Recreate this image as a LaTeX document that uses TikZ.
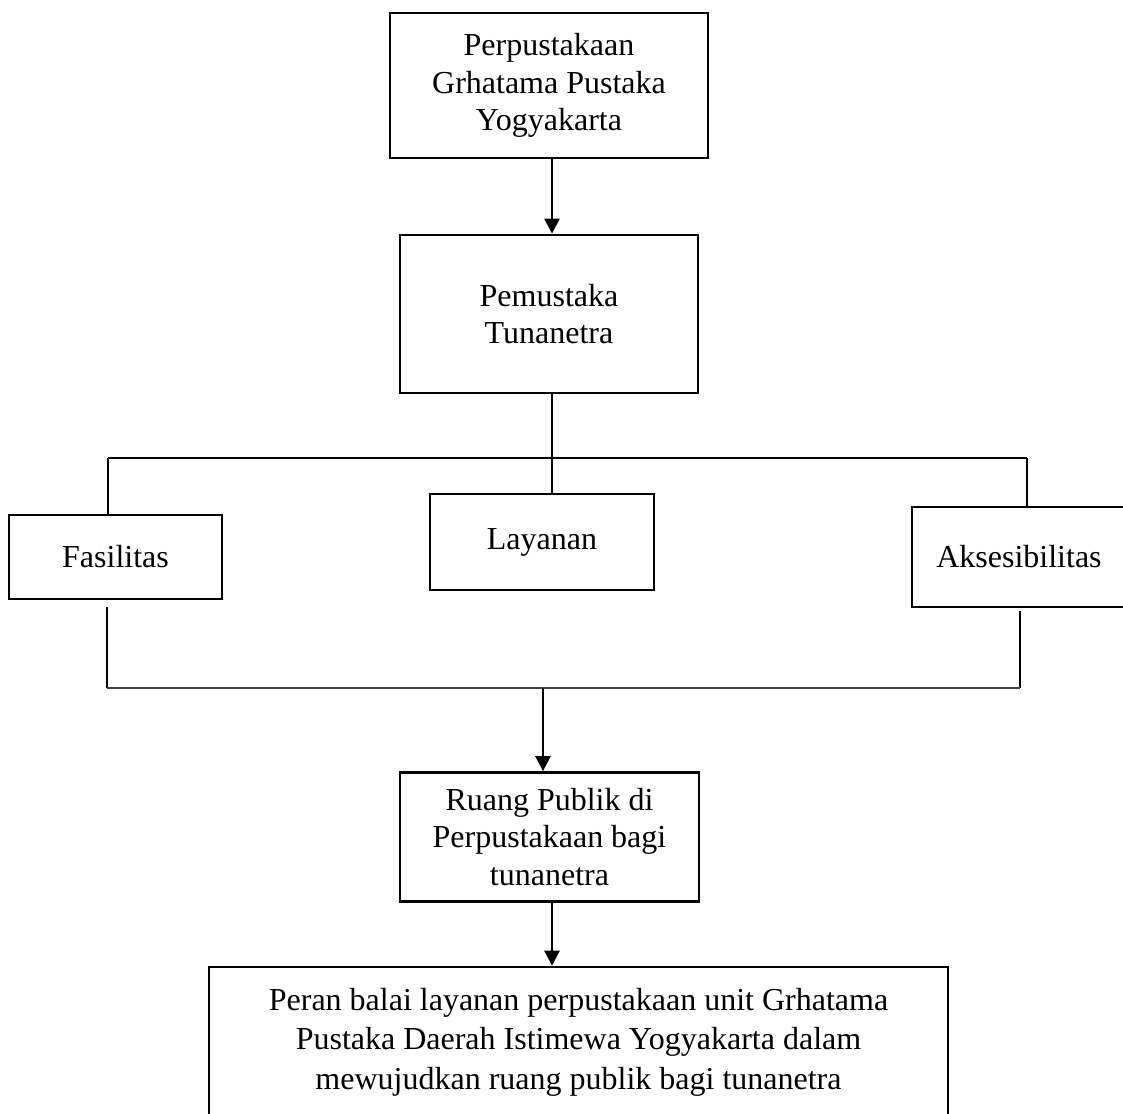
\documentclass[tikz,border=0pt]{standalone}
\usepackage{fontspec}
\setmainfont{Liberation Serif}
\usetikzlibrary{arrows.meta}
\begin{document}
\begin{tikzpicture}[x=1pt,y=-1pt,
  boxstyle/.style={draw=black, line width=2.8pt, rectangle, inner sep=0pt, align=center,
    font=\fontsize{32}{37.5}\selectfont},
  thinline/.style={line width=1.2pt},
  arrowline/.style={line width=2.8pt, -{Triangle[width=15pt,length=15pt]}},
  baseline/.style={line width=2.2pt, draw=black!75}]
\useasboundingbox (0,0) rectangle (1123,1113);
\node[boxstyle, minimum width=318pt, minimum height=145pt] (top) at (549,85.5)
  {Perpustakaan\\Grhatama Pustaka\\Yogyakarta};
\node[boxstyle, minimum width=298pt, minimum height=158pt] (pem) at (549,314)
  {Pemustaka\\Tunanetra};
\node[boxstyle, minimum width=213pt, minimum height=84pt] (fas) at (115.5,557) {Fasilitas};
\node[boxstyle, minimum width=224pt, minimum height=96pt] (lay) at (542,542) {Layanan};
\node[boxstyle, minimum width=214pt, minimum height=100pt] (aks) at (1019,557) {Aksesibilitas};
\node[boxstyle, minimum width=299pt, minimum height=129pt] (ruang) at (549.5,837)
  {Ruang Publik di\\Perpustakaan bagi\\tunanetra};
\node[boxstyle, minimum width=739pt, minimum height=150pt, font=\fontsize{32}{39.5}\selectfont] (peran) at (578.5,1042)
  {Peran balai layanan perpustakaan unit Grhatama\\Pustaka Daerah Istimewa Yogyakarta dalam\\mewujudkan ruang publik bagi tunanetra};
% connectors
\draw[arrowline] (top.south -| 552,0) -- (pem.north -| 552,0);
\coordinate (hl) at (108,458);
\coordinate (hm) at (552,458);
\coordinate (hr) at (1027,458);
\draw[thinline] (hm |- pem.south) -- (hm);
\draw[thinline] (hl) -- (hr);
\draw[thinline] (hl) -- (hl |- fas.north);
\draw[thinline] (hm) -- (hm |- lay.north);
\draw[thinline] (hr) -- (hr |- aks.north);
\coordinate (bl) at (107,688);
\coordinate (bm) at (543,688);
\coordinate (br) at (1020,688);
\draw[thinline, shorten >=7pt] (bl) -- (bl |- fas.south);
\draw[thinline, shorten >=3pt] (br) -- (br |- aks.south);
\draw[baseline] (bl) -- (br);
\draw[arrowline] (bm) -- (bm |- ruang.north);
\draw[arrowline] (ruang.south -| 552,0) -- (peran.north -| 552,0);
\end{tikzpicture}
\end{document}
